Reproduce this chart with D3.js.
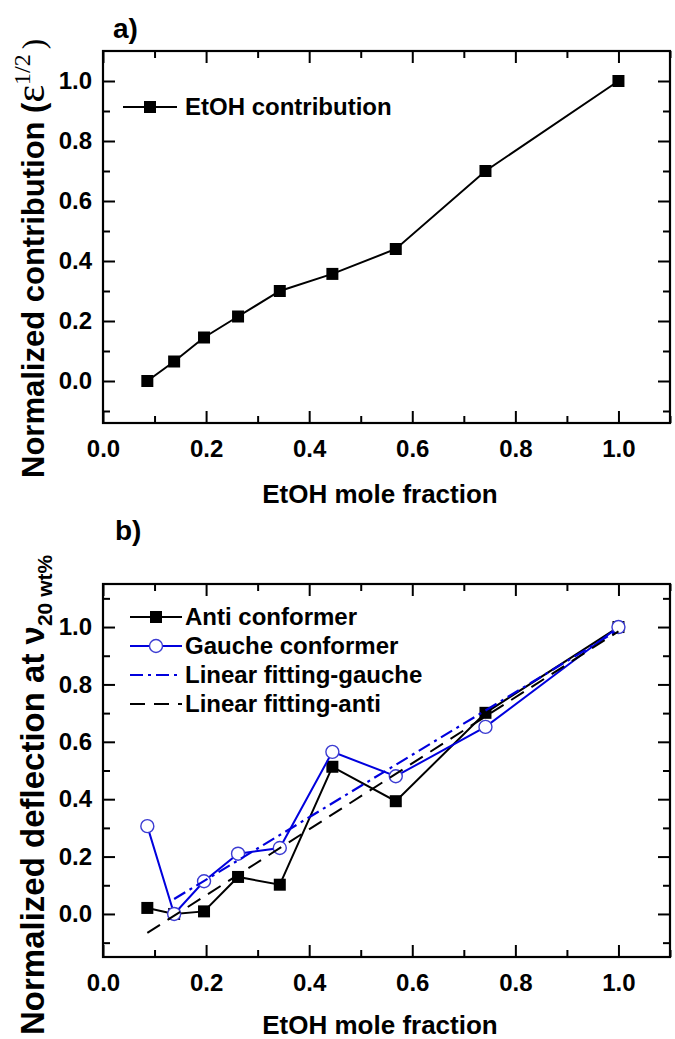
<!DOCTYPE html>
<html><head><meta charset="utf-8">
<script src="https://cdn.jsdelivr.net/npm/d3@7/dist/d3.min.js"></script>
<style>
body{margin:0;background:#fff}
text{font-family:"Liberation Sans",Arial,sans-serif;font-weight:bold;fill:#000}
</style>
</head><body>
<svg id="c" width="675" height="1039"></svg>
<script>
// ---- data ----
const moleFraction = [0.086, 0.138, 0.196, 0.262, 0.343, 0.445, 0.568, 0.742, 1.0];
const etohContribution = [0.0, 0.065, 0.145, 0.215, 0.30, 0.357, 0.44, 0.70, 1.0];
const antiConformer = [0.021, 0.0, 0.009, 0.129, 0.102, 0.513, 0.393, 0.701, 1.0];
const gaucheConformer = [0.306, 0.0, 0.114, 0.210, 0.230, 0.565, 0.480, 0.652, 1.0];
const fitGaucheX = [0.138, 1.0];
const fitGaucheY = [0.052, 0.99];
const fitAntiX = [0.086, 1.0];
const fitAntiY = [-0.066, 0.985];
const xMajorTicks = [0.0, 0.2, 0.4, 0.6, 0.8, 1.0];
const xMinorTicks = [0.1, 0.3, 0.5, 0.7, 0.9, 1.1];
const yMajorTicks = [0.0, 0.2, 0.4, 0.6, 0.8, 1.0];
const yMinorTicksA = [-0.1, 0.1, 0.3, 0.5, 0.7, 0.9];
const yMinorTicksB = [-0.1, 0.1, 0.3, 0.5, 0.7, 0.9, 1.1];
const legendA = ["EtOH contribution"];
const legendB = ["Anti conformer", "Gauche conformer", "Linear fitting-gauche", "Linear fitting-anti"];

const svg = d3.select("#c");
const BLUE = "#0000dd";
const CIRC = "#3c3cd2";
const SERIF = '"Liberation Serif","DejaVu Serif",serif';

function panel(cfg) {
  const x = d3.scaleLinear().domain([0, 1.1]).range([103, 670]);
  const y = d3.scaleLinear().domain(cfg.yDomain).range([cfg.bottom, cfg.top]);
  const g = svg.append("g");
  const fmt = d3.format(".1f");
  const styleAxis = sel => {
    sel.select(".domain").remove();
    sel.selectAll("line").attr("stroke", "#000").attr("stroke-width", 2);
    sel.selectAll("text").style("font-size", "24px").style("font-family", '"Liberation Sans",Arial,sans-serif').style("font-weight", "bold");
  };
  g.append("g").attr("transform", `translate(0,${cfg.bottom})`)
    .call(d3.axisBottom(x).tickValues(xMajorTicks).tickSize(-12).tickPadding(17).tickFormat(fmt)).call(styleAxis);
  g.append("g").attr("transform", `translate(0,${cfg.bottom})`)
    .call(d3.axisBottom(x).tickValues(xMinorTicks).tickSize(-7).tickFormat("")).call(styleAxis);
  g.append("g").attr("transform", `translate(0,${cfg.top})`)
    .call(d3.axisTop(x).tickValues(xMajorTicks).tickSize(-12).tickFormat("")).call(styleAxis);
  g.append("g").attr("transform", `translate(0,${cfg.top})`)
    .call(d3.axisTop(x).tickValues(xMinorTicks).tickSize(-7).tickFormat("")).call(styleAxis);
  g.append("g").attr("transform", `translate(103,0)`)
    .call(d3.axisLeft(y).tickValues(yMajorTicks).tickSize(-12).tickPadding(11).tickFormat(fmt)).call(styleAxis);
  g.append("g").attr("transform", `translate(103,0)`)
    .call(d3.axisLeft(y).tickValues(cfg.yMinor).tickSize(-7).tickFormat("")).call(styleAxis);
  g.append("g").attr("transform", `translate(670,0)`)
    .call(d3.axisRight(y).tickValues(yMajorTicks).tickSize(-12).tickFormat("")).call(styleAxis);
  g.append("g").attr("transform", `translate(670,0)`)
    .call(d3.axisRight(y).tickValues(cfg.yMinor).tickSize(-7).tickFormat("")).call(styleAxis);
  g.append("rect").attr("x", 103).attr("y", cfg.top).attr("width", 567).attr("height", cfg.bottom - cfg.top)
    .attr("fill", "none").attr("stroke", "#000").attr("stroke-width", 2.2);
  return {x, y, g};
}

function squares(g, x, y, xs, ys, color) {
  g.selectAll(null).data(xs).enter().append("rect")
    .attr("x", d => x(d) - 6).attr("y", (d, i) => y(ys[i]) - 6)
    .attr("width", 12).attr("height", 12).attr("fill", color);
}
function circles(g, x, y, xs, ys) {
  g.selectAll(null).data(xs).enter().append("circle")
    .attr("cx", d => x(d)).attr("cy", (d, i) => y(ys[i])).attr("r", 6.5)
    .attr("fill", "#fff").attr("stroke", CIRC).attr("stroke-width", 1.4);
}
function line(g, x, y, xs, ys, color, dash, w) {
  const l = d3.line().x(d => x(d[0])).y(d => y(d[1]));
  g.append("path").attr("d", l(xs.map((d, i) => [d, ys[i]])))
    .attr("fill", "none").attr("stroke", color).attr("stroke-width", w || 2)
    .attr("stroke-dasharray", dash || null);
}

// ---- panel a ----
const A = panel({yDomain: [-0.14, 1.1], top: 51, bottom: 423, yMinor: yMinorTicksA});
line(A.g, A.x, A.y, moleFraction, etohContribution, "#000");
squares(A.g, A.x, A.y, moleFraction, etohContribution, "#000");
A.g.append("line").attr("x1", 123).attr("x2", 177).attr("y1", 107).attr("y2", 107).attr("stroke", "#000").attr("stroke-width", 2);
A.g.append("rect").attr("x", 144).attr("y", 101).attr("width", 12).attr("height", 12).attr("fill", "#000");
A.g.append("text").attr("x", 185).attr("y", 115).style("font-size", "24px").text(legendA[0]);

// ---- panel b ----
const B = panel({yDomain: [-0.15, 1.15], top: 584, bottom: 957, yMinor: yMinorTicksB});
line(B.g, B.x, B.y, moleFraction, antiConformer, "#000");
squares(B.g, B.x, B.y, moleFraction, antiConformer, "#000");
line(B.g, B.x, B.y, moleFraction, gaucheConformer, BLUE);
circles(B.g, B.x, B.y, moleFraction, gaucheConformer);
line(B.g, B.x, B.y, fitGaucheX, fitGaucheY, BLUE, "13,5,3,5", 2.2);
line(B.g, B.x, B.y, fitAntiX, fitAntiY, "#000", "15,9", 2);

const rows = [617, 646, 675, 704];
const lg = B.g.append("g");
lg.append("line").attr("x1", 130).attr("x2", 182).attr("y1", rows[0]).attr("y2", rows[0]).attr("stroke", "#000").attr("stroke-width", 2);
lg.append("rect").attr("x", 150).attr("y", rows[0] - 6).attr("width", 12).attr("height", 12).attr("fill", "#000");
lg.append("line").attr("x1", 130).attr("x2", 182).attr("y1", rows[1]).attr("y2", rows[1]).attr("stroke", BLUE).attr("stroke-width", 2);
lg.append("circle").attr("cx", 156).attr("cy", rows[1]).attr("r", 6.5).attr("fill", "#fff").attr("stroke", CIRC).attr("stroke-width", 1.4);
lg.append("line").attr("x1", 130).attr("x2", 182).attr("y1", rows[2]).attr("y2", rows[2]).attr("stroke", BLUE).attr("stroke-width", 2.2).attr("stroke-dasharray", "13,5,3,5");
lg.append("line").attr("x1", 130).attr("x2", 182).attr("y1", rows[3]).attr("y2", rows[3]).attr("stroke", "#000").attr("stroke-width", 2).attr("stroke-dasharray", "15,9");
legendB.forEach((t, i) => lg.append("text").attr("x", 185).attr("y", rows[i] + 8).style("font-size", "24px").text(t));

// ---- titles ----
svg.append("text").attr("x", 113).attr("y", 38).style("font-size", "28px").text("a)");
svg.append("text").attr("x", 115).attr("y", 540).style("font-size", "28px").text("b)");
svg.append("text").attr("x", 380).attr("y", 503).attr("text-anchor", "middle").style("font-size", "26px").text("EtOH mole fraction");
svg.append("text").attr("x", 380).attr("y", 1034).attr("text-anchor", "middle").style("font-size", "26px").text("EtOH mole fraction");

const yla = svg.append("text").attr("transform", "translate(44,478) rotate(-90)").style("font-size", "31px");
yla.append("tspan").text("Normalized contribution (");
yla.append("tspan").style("font-family", SERIF).style("font-weight", "normal").style("font-size", "42px").text("ε");
yla.append("tspan").attr("dy", -14).style("font-family", SERIF).style("font-weight", "normal").style("font-size", "24px").text("1/2");
yla.append("tspan").attr("dy", 14).attr("dx", 5).style("font-family", SERIF).style("font-weight", "normal").text(")");

const ylb = svg.append("text").attr("transform", "translate(44,1035) rotate(-90)").style("font-size", "33px");
ylb.append("tspan").text("Normalized deflection at ν");
ylb.append("tspan").attr("dy", 8).style("font-size", "21px").text("20 wt%");
</script>
</body></html>
